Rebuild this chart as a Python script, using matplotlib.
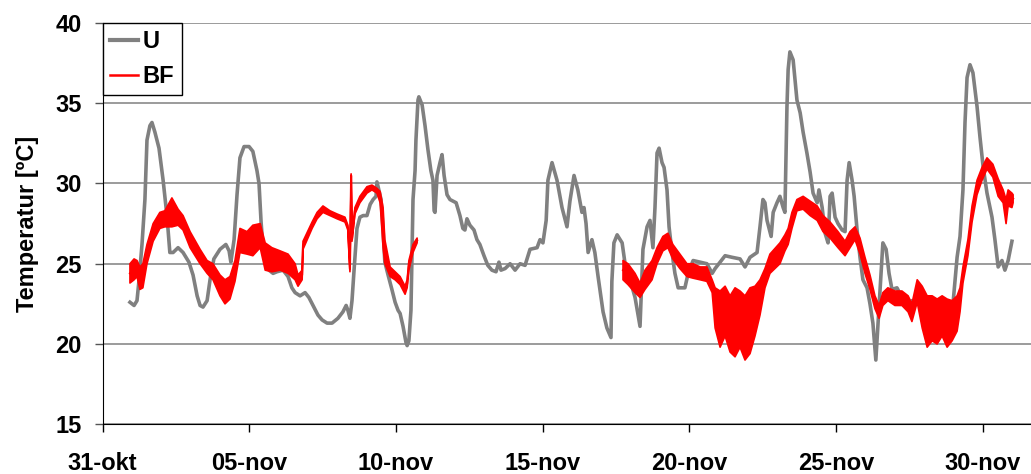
import numpy as np
import matplotlib
matplotlib.use("Agg")
from matplotlib import pyplot as plt

plt.rcParams['font.family'] = ['Liberation Sans', 'DejaVu Sans']
plt.rcParams['font.weight'] = 'bold'

# days since 31-okt 00:00
tick_days = [0, 5, 10, 15, 20, 25, 30]
tick_labels = ["31-okt", "05-nov", "10-nov", "15-nov", "20-nov", "25-nov", "30-nov"]

# U (gray line)
u_day = [0.93, 1.07, 1.17, 1.24, 1.34, 1.44, 1.51, 1.61, 1.68, 1.78, 1.92, 2.06, 2.19, 2.29, 2.40, 2.57,
         2.74, 2.94, 3.08, 3.22, 3.32, 3.42, 3.56, 3.66, 3.79, 4.00, 4.20, 4.31, 4.37, 4.48, 4.58, 4.68,
         4.82, 4.99, 5.12, 5.26, 5.33, 5.40, 5.47, 5.57, 5.67, 5.81, 5.94, 6.15, 6.32, 6.45, 6.56, 6.73,
         6.90, 7.03, 7.17, 7.34, 7.48, 7.65, 7.82, 8.02, 8.19, 8.30, 8.36, 8.43, 8.50, 8.57, 8.67, 8.77,
         8.88, 9.01, 9.12, 9.22, 9.32, 9.35, 9.39, 9.49, 9.56, 9.62, 9.73, 9.86, 9.97, 10.07, 10.14, 10.24,
         10.34, 10.38, 10.44, 10.51, 10.55, 10.58, 10.65, 10.68, 10.75, 10.78, 10.89, 10.99, 11.09, 11.19,
         11.26, 11.30, 11.33, 11.40, 11.50, 11.57, 11.64, 11.74, 11.84, 12.05, 12.18, 12.28, 12.35, 12.42,
         12.52, 12.66, 12.76, 12.86, 13.00, 13.13, 13.27, 13.41, 13.51, 13.58, 13.72, 13.89, 14.06, 14.23,
         14.40, 14.57, 14.81, 14.91, 15.01, 15.12, 15.18, 15.32, 15.49, 15.66, 15.83, 15.93, 16.07, 16.20,
         16.34, 16.41, 16.48, 16.55, 16.68, 16.78, 16.89, 17.06, 17.19, 17.33, 17.36, 17.43, 17.54, 17.71,
         17.81, 17.98, 18.15, 18.32, 18.42, 18.56, 18.66, 18.76, 18.83, 18.90, 18.97, 19.07, 19.14, 19.24,
         19.31, 19.41, 19.51, 19.62, 19.85, 19.96, 20.13, 20.37, 20.60, 20.78, 20.88, 21.05, 21.22, 21.46,
         21.73, 21.90, 22.07, 22.31, 22.41, 22.51, 22.58, 22.65, 22.79, 22.86, 22.99, 23.09, 23.20, 23.26,
         23.33, 23.37, 23.43, 23.54, 23.67, 23.78, 23.88, 24.01, 24.12, 24.22, 24.36, 24.42, 24.53, 24.63,
         24.73, 24.80, 24.87, 24.97, 25.07, 25.21, 25.31, 25.38, 25.45, 25.55, 25.62, 25.72, 25.82, 25.92,
         26.06, 26.16, 26.26, 26.36, 26.43, 26.54, 26.60, 26.71, 26.81, 26.91, 27.08, 27.25, 27.42, 27.59,
         27.80, 28.03, 28.38, 28.72, 28.99, 29.13, 29.23, 29.33, 29.40, 29.47, 29.57, 29.67, 29.81, 29.91,
         30.02, 30.15, 30.32, 30.42, 30.53, 30.66, 30.76, 30.87, 31.00]
u_temp = [22.6, 22.4, 22.7, 24.0, 26.2, 29.0, 32.7, 33.6, 33.8, 33.2, 32.2, 30.2, 28.0, 25.7, 25.7, 26.0,
          25.7, 25.1, 24.3, 23.0, 22.4, 22.3, 22.7, 24.0, 25.3, 25.9, 26.2, 25.8, 25.1, 26.5, 29.3, 31.6,
          32.3, 32.3, 32.0, 30.8, 30.0, 27.6, 25.9, 25.1, 24.6, 24.4, 24.5, 24.6, 24.2, 23.5, 23.2, 23.0,
          23.2, 22.9, 22.4, 21.8, 21.5, 21.3, 21.3, 21.6, 22.0, 22.4, 22.1, 21.6, 22.7, 24.6, 27.2, 27.9,
          28.0, 28.0, 28.7, 29.0, 29.2, 30.1, 29.8, 29.0, 27.1, 25.1, 24.3, 23.4, 22.6, 22.1, 21.9, 21.1,
          20.1, 19.9, 20.2, 22.1, 25.9, 29.0, 30.8, 32.7, 35.2, 35.4, 34.9, 33.6, 32.1, 30.8,
          30.2, 28.3, 28.2, 30.5, 31.3, 31.8, 30.5, 29.3, 29.0, 28.8, 28.0, 27.2, 27.1, 27.8,
          27.4, 27.1, 26.5, 26.2, 25.5, 24.9, 24.6, 24.5, 25.1, 24.6, 24.7, 25.0, 24.6, 25.0,
          24.9, 25.9, 26.0, 26.5, 26.3, 27.7, 30.2, 31.3, 30.2, 28.5, 27.3, 28.9, 30.5, 29.6,
          28.2, 28.5, 27.5, 25.7, 26.5, 25.7, 24.2, 22.0, 21.0, 20.4, 23.9, 26.3, 26.8, 26.3,
          25.0, 24.0, 22.9, 21.1, 25.9, 27.3, 27.7, 26.0, 28.5, 31.9, 32.2, 31.3, 31.0, 29.6,
          27.3, 25.7, 24.4, 23.5, 23.5, 24.4, 25.2, 25.1, 25.0, 24.4, 24.7, 25.1, 25.5, 25.4,
          25.3, 24.8, 25.4, 25.7, 27.3, 29.0, 28.8, 27.7, 26.7, 28.2, 28.8, 29.2, 28.5, 28.2,
          34.8, 37.1, 38.2, 37.7, 35.2, 34.4, 33.2, 31.9, 30.7, 29.4, 28.8, 29.6, 28.5, 26.9,
          26.3, 29.2, 29.4, 27.9, 27.5, 27.1, 27.0, 30.2, 31.3, 30.2, 29.2, 27.1, 25.4, 24.0,
          23.5, 22.5, 21.3, 19.0, 21.1, 24.4, 26.3, 25.9, 24.4, 23.4, 23.5, 22.9, 22.5, 22.7,
          22.5, 22.3, 22.4, 22.3, 22.5, 25.4, 26.7, 29.6, 33.8, 36.6, 37.4, 36.9, 34.8, 32.9,
          31.0, 29.4, 27.9, 26.5, 24.8, 25.2, 24.6, 25.2, 26.4]

# BF (red, noisy): low / high envelope, nan = no data
bf_day = [0.93, 1.07, 1.17, 1.27, 1.37, 1.51, 1.72, 1.95, 2.12, 2.36, 2.57, 2.74, 2.98, 3.32, 3.56, 3.76,
          4.00, 4.17, 4.34, 4.51, 4.68, 4.92, 5.12, 5.37, 5.54, 5.77, 6.05, 6.32, 6.56, 6.66, 6.80, 6.83,
          7.14, 7.31, 7.51, 7.75, 7.99, 8.26, 8.36, 8.43, 8.47, 8.50, 8.60, 8.77, 9.01, 9.18, 9.35, 9.46,
          9.56, 9.62, 9.80, 9.97, 10.14, 10.31, 10.38, 10.44, 10.58, 10.72,
          14.0,
          17.74, 17.91, 18.15, 18.32, 18.49, 18.73, 18.90, 19.10, 19.27, 19.44, 19.68, 19.92, 20.13, 20.37,
          20.60, 20.78, 20.88, 21.05, 21.22, 21.39, 21.56, 21.73, 21.90, 22.07, 22.24, 22.41, 22.58, 22.75,
          23.09, 23.26, 23.37, 23.50, 23.67, 23.88, 24.12, 24.36, 24.56, 24.80, 25.07, 25.31, 25.48, 25.65,
          25.82, 25.99, 26.16, 26.33, 26.47, 26.60, 26.77, 27.01, 27.25, 27.46, 27.59, 27.77, 27.94, 28.11,
          28.28, 28.45, 28.62, 28.79, 28.96, 29.13, 29.23, 29.33, 29.50, 29.64, 29.81, 29.98, 30.15, 30.35,
          30.53, 30.70, 30.80, 30.87, 31.00, 31.04]
bf_lo = [23.8, 24.0, 24.2, 23.4, 23.5, 25.0, 26.4, 27.2, 27.3, 27.3, 27.4, 27.1, 26.0, 25.0, 24.4, 24.0,
         23.0, 22.5, 22.8, 23.9, 25.7, 25.6, 25.5, 26.0, 24.6, 24.5, 24.6, 24.4, 24.0, 23.6, 24.0, 25.9,
         27.2, 27.8, 28.2, 28.0, 27.8, 27.6, 27.1, 24.5, 30.4, 26.4, 28.1, 28.8, 29.4, 29.6, 29.4, 28.8,
         26.0, 25.0, 24.2, 24.0, 23.7, 23.1, 23.5, 24.6, 25.7, 26.3,
         np.nan,
         24.0, 23.7, 23.2, 22.9, 23.4, 24.0, 25.0, 25.8, 26.0, 25.3, 24.7, 24.2, 24.1, 24.0,
         23.9, 23.2, 21.0, 19.8, 20.5, 19.5, 19.2, 19.8, 19.0, 19.4, 20.5, 21.8, 23.5, 24.4,
         25.0, 25.8, 26.2, 27.2, 28.3, 28.4, 28.0, 27.7, 27.0, 26.6, 26.0, 25.5, 26.0, 26.5,
         25.6, 24.4, 23.4, 22.2, 21.6, 22.4, 22.7, 22.4, 22.4, 22.0, 21.4, 22.6, 21.0, 19.8,
         20.2, 20.0, 20.5, 19.8, 20.2, 20.8, 22.0, 23.8, 25.5, 27.6, 29.3, 30.2, 30.9, 30.4,
         29.2, 28.8, 27.5, 28.6, 28.5, 28.8]
bf_hi = [25.0, 25.3, 25.2, 24.8, 25.0, 26.2, 27.5, 28.2, 28.3, 29.1, 28.4, 28.0, 27.0, 25.9, 25.2, 25.0,
         24.3, 24.0, 24.2, 25.2, 27.2, 27.0, 27.4, 27.5, 26.3, 26.0, 25.8, 25.6, 25.0, 24.3, 24.6, 26.4,
         27.6, 28.2, 28.6, 28.3, 28.1, 27.9, 27.4, 24.8, 30.6, 26.7, 28.5, 29.2, 29.8, 29.9, 29.7, 29.5,
         28.5, 26.5, 24.8, 24.5, 24.2, 23.6, 24.0, 25.2, 26.2, 26.6,
         np.nan,
         25.2, 25.0, 24.4, 23.8, 24.6, 25.2, 26.0, 26.7, 26.9, 26.2, 25.6, 25.0, 25.0, 24.8,
         24.8, 24.0, 23.5, 23.3, 23.6, 23.0, 23.5, 23.3, 23.0, 23.5, 23.6, 24.0, 24.7, 25.6,
         26.3, 26.8, 27.2, 28.2, 29.0, 29.2, 28.9, 28.6, 28.0, 27.6, 27.0, 26.4, 27.0, 27.3,
         26.6, 25.4, 24.3, 23.0, 22.4, 23.2, 23.5, 23.3, 23.3, 23.0, 22.5, 24.0, 23.6, 23.0,
         23.0, 22.8, 23.0, 22.8, 22.7, 23.0, 23.5, 24.8, 26.5, 28.6, 30.2, 31.0, 31.6, 31.2,
         30.3, 29.6, 29.0, 29.6, 29.4, 29.3]

bf_lo = np.array(bf_lo)
bf_hi = np.array(bf_hi)
bf_mid = (bf_lo + bf_hi) / 2

fig = plt.figure(figsize=(10.31, 4.74), dpi=100)
ax = fig.add_axes([0.0996, 0.105, 0.9004, 0.8465])

ax.plot(u_day, u_temp, color='#808080', lw=2.6, label="U", zorder=3)
ax.fill_between(bf_day, bf_lo, bf_hi, color='red', lw=1.2, zorder=4)
ax.plot(bf_day, bf_mid, color='red', lw=1.5, label="BF", zorder=4)

ax.set_xlim(0, 31.65)
ax.set_ylim(15, 40)
ax.set_yticks([15, 20, 25, 30, 35, 40])
ax.set_xticks(tick_days)
ax.set_xticklabels(tick_labels)
ax.grid(True, axis='y', color='#808080', lw=1.1)
ax.set_axisbelow(True)
for s in ['top', 'right']:
    ax.spines[s].set_visible(False)
ax.spines['left'].set_color('black')
ax.spines['bottom'].set_color('black')
ax.tick_params(axis='y', direction='out', length=6, width=1, color='#555555', pad=9, labelsize=17)
ax.tick_params(axis='x', direction='out', length=6, width=1, color='black', pad=14, labelsize=17)
ax.set_ylabel("Temperatur [ºC]", fontsize=17, fontweight='bold', labelpad=12)

leg = ax.legend(loc='upper left', borderaxespad=0, fancybox=False, framealpha=1, edgecolor='black',
                fontsize=17, handlelength=1.2, handletextpad=0.2, borderpad=0.3, labelspacing=0.5)
leg.get_frame().set_linewidth(1.0)
leg.get_lines()[0].set_linewidth(3.0)
leg.get_lines()[1].set_linewidth(1.8)

fig.savefig("out.png", dpi=100)
